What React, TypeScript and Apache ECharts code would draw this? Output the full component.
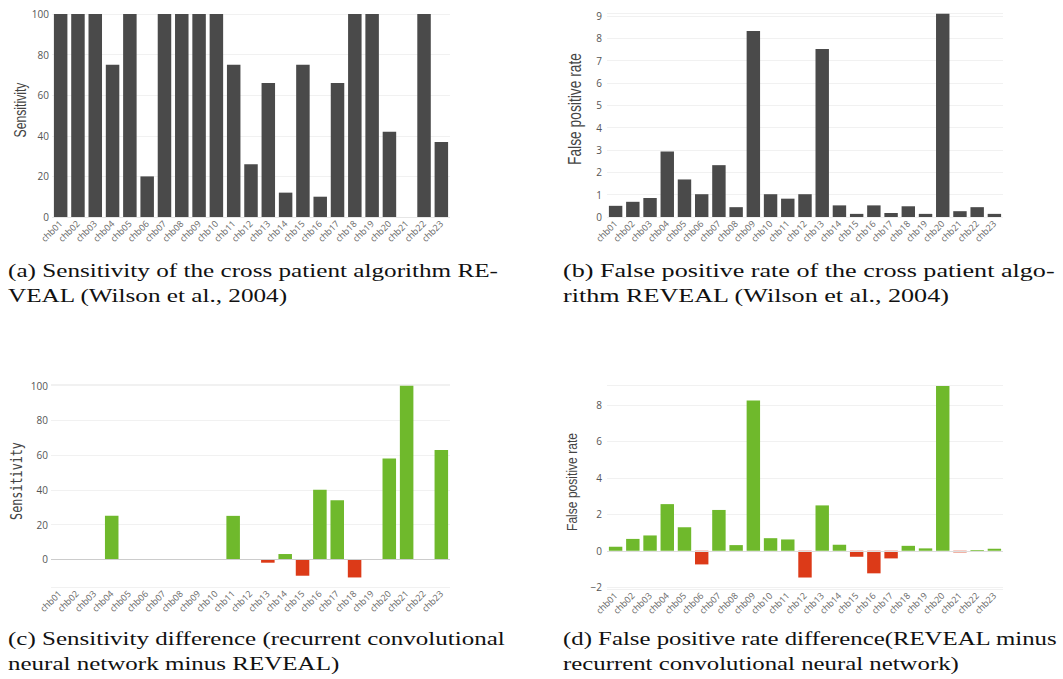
import React, { useEffect, useRef } from "react";
import * as echarts from "echarts";

const channels = [
  "chb01", "chb02", "chb03", "chb04", "chb05", "chb06", "chb07", "chb08",
  "chb09", "chb10", "chb11", "chb12", "chb13", "chb14", "chb15", "chb16",
  "chb17", "chb18", "chb19", "chb20", "chb21", "chb22", "chb23",
];
const sensitivityReveal = [100, 100, 100, 75, 100, 20, 100, 100, 100, 100, 75, 26, 66, 12, 75, 10, 66, 100, 100, 42, 0, 100, 37];
const fprReveal = [0.5, 0.68, 0.85, 2.93, 1.68, 1.02, 2.32, 0.44, 8.33, 1.02, 0.82, 1.02, 7.52, 0.52, 0.14, 0.52, 0.18, 0.48, 0.14, 9.1, 0.26, 0.44, 0.14];
const sensitivityDiff = [0, 0, 0, 25, 0, 0, 0, 0, 0, 0, 25, 0, -2, 3, -9.5, 40, 34, -10.5, 0, 58, 100, 0, 63];
const fprDiff = [0.22, 0.65, 0.84, 2.56, 1.29, -0.75, 2.24, 0.31, 8.25, 0.69, 0.62, -1.47, 2.49, 0.33, -0.33, -1.24, -0.42, 0.27, 0.13, 9.04, -0.09, 0.04, 0.11];

const axisTitles = ["Sensitivity", "False positive rate", "Sensitivity", "False positive rate"];
const captionA = ["(a) Sensitivity of the cross patient algorithm RE-", "VEAL (Wilson et al., 2004)"];
const captionB = ["(b) False positive rate of the cross patient algo-", "rithm REVEAL (Wilson et al., 2004)"];
const captionC = ["(c) Sensitivity difference (recurrent convolutional", "neural network minus REVEAL)"];
const captionD = ["(d) False positive rate difference(REVEAL minus", "recurrent convolutional neural network)"];

const DARK = "#4a4a4a";
const GREEN = "#6fb92c";
const RED = "#dc3a18";
const SANS = "'Liberation Sans', Arial, sans-serif";
const SERIF = "'Liberation Serif', 'DejaVu Serif', serif";

function measure(text: string, font: string): number {
  const ctx = document.createElement("canvas").getContext("2d");
  if (!ctx) return text.length * 9;
  ctx.font = font;
  return ctx.measureText(text).width;
}

export default function App() {
  const ref = useRef<HTMLDivElement>(null);

  useEffect(() => {
    document.body.style.margin = "0";
    const chart = echarts.init(ref.current!, null, { renderer: "svg" });

    const grids = [
      { left: 52, top: 14, width: 398, height: 203 },
      { left: 607, top: 13, width: 396, height: 204 },
      { left: 51, top: 384, width: 399, height: 203 },
      { left: 607, top: 385, width: 396, height: 204 },
    ].map((g) => ({ ...g, outerBoundsMode: "none", containLabel: false }));

    const xAxis = grids.map((_, i) => ({
      type: "category",
      gridIndex: i,
      data: channels,
      axisLine: { show: false },
      axisTick: { show: false },
      axisLabel: {
        interval: 0,
        rotate: 45,
        margin: 5,
        fontSize: 9,
        color: "#666",
        fontFamily: "'Open Sans', sans-serif",
      },
    }));

    const yLabel = {
      color: "#555",
      fontSize: 10,
      fontFamily: "'Open Sans', sans-serif",
    };
    const split = { show: true, lineStyle: { color: "#f1f1f1", width: 1 } };

    const yAxis = [
      {
        type: "value", gridIndex: 0, min: 0, max: 100, interval: 20,
        axisLabel: { ...yLabel, margin: 3 }, splitLine: split,
        axisLine: { show: false }, axisTick: { show: false },
      },
      {
        type: "value", gridIndex: 1, min: 0, max: 9.13, interval: 1,
        axisLabel: {
          ...yLabel, margin: 5,
          formatter: (v: number) => (Number.isInteger(v) ? String(v) : ""),
        },
        splitLine: split, axisLine: { show: false }, axisTick: { show: false },
      },
      {
        type: "value", gridIndex: 2, min: -16, max: 101, splitNumber: 5,
        axisLabel: {
          ...yLabel, margin: 3,
          formatter: (v: number) => (Math.abs(v % 20) < 1e-9 && v >= 0 ? String(Math.abs(v)) : ""),
        },
        splitLine: split, axisLine: { show: false }, axisTick: { show: false },
      },
      {
        type: "value", gridIndex: 3, min: -2.1, max: 9.1, splitNumber: 5,
        axisLabel: {
          ...yLabel, margin: 5,
          formatter: (v: number) =>
            Math.abs(v % 2) < 1e-9 ? (v < 0 ? "\u2212" + String(-v) : String(Math.abs(v))) : "",
        },
        splitLine: split, axisLine: { show: false }, axisTick: { show: false },
      },
    ];

    const zeroLine = (color: string) => ({
      silent: true,
      symbol: "none",
      label: { show: false },
      lineStyle: { color, type: "solid", width: 1 },
      data: [{ yAxis: 0 }],
    });

    const signColor = (p: any) => (p.value >= 0 ? GREEN : RED);

    const series = [
      {
        type: "bar", xAxisIndex: 0, yAxisIndex: 0, data: sensitivityReveal,
        barCategoryGap: "22%", itemStyle: { color: DARK },
        markLine: zeroLine("#e6e6e6"),
      },
      {
        type: "bar", xAxisIndex: 1, yAxisIndex: 1, data: fprReveal,
        barCategoryGap: "22%", itemStyle: { color: DARK },
      },
      {
        type: "bar", xAxisIndex: 2, yAxisIndex: 2, data: sensitivityDiff,
        barCategoryGap: "22%", itemStyle: { color: signColor },
        markLine: zeroLine("#cccccc"),
      },
      {
        type: "bar", xAxisIndex: 3, yAxisIndex: 3, data: fprDiff,
        barCategoryGap: "22%", itemStyle: { color: signColor },
        markLine: zeroLine("#dddddd"),
      },
    ];

    const axisTitleGraphics = [
      { x: 20, y: 110, font: SANS, size: 16, len: 55 },
      { x: 574, y: 109, font: SANS, size: 18, len: 112 },
      { x: 16, y: 481, font: "'DejaVu Sans Mono', monospace", size: 15, len: 78 },
      { x: 572, y: 482, font: SANS, size: 14, len: 98 },
    ].map((t, i) => {
      const font = `${t.size}px ${t.font}`;
      const sx = Math.min(1.2, Math.max(0.6, t.len / measure(axisTitles[i], font)));
      return {
        type: "text",
        x: t.x,
        y: t.y,
        rotation: Math.PI / 2,
        scaleX: sx,
        style: {
          text: axisTitles[i],
          fill: "#444",
          font,
          align: "center",
          verticalAlign: "middle",
        },
      };
    });

    const CAP_FONT = `19px ${SERIF}`;
    const captionGraphics: any[] = [];
    const captions = [
      { lines: captionA, x: 8, y: 271, w: 490 },
      { lines: captionB, x: 563, y: 271, w: 492 },
      { lines: captionC, x: 8, y: 639, w: 497 },
      { lines: captionD, x: 563, y: 639, w: 495 },
    ];
    captions.forEach((c) => {
      const sx = Math.min(1.4, Math.max(0.8, c.w / measure(c.lines[0], CAP_FONT)));
      c.lines.forEach((line, j) => {
        captionGraphics.push({
          type: "text",
          x: c.x,
          y: c.y + j * 25,
          scaleX: sx,
          style: {
            text: line,
            fill: "#111",
            font: CAP_FONT,
            align: "left",
            verticalAlign: "middle",
          },
        });
      });
    });

    chart.setOption({
      animation: false,
      backgroundColor: "#ffffff",
      grid: grids,
      xAxis,
      yAxis,
      series,
      graphic: [...axisTitleGraphics, ...captionGraphics],
    });

    return () => chart.dispose();
  }, []);

  return <div ref={ref} style={{ width: 1063, height: 679 }} />;
}
